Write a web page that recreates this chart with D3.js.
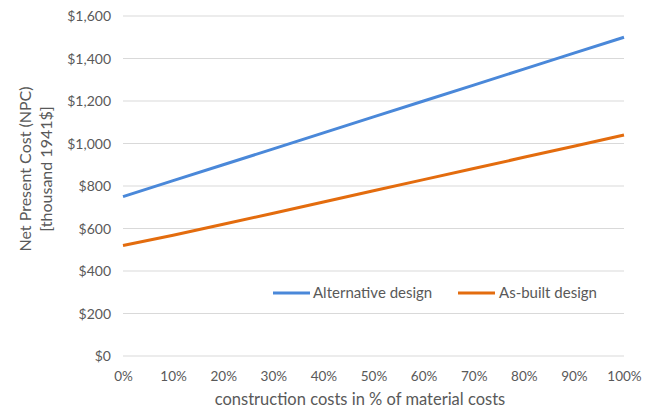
<!DOCTYPE html>
<html>
<head>
<meta charset="utf-8">
<script src="https://cdn.jsdelivr.net/npm/d3@7"></script>
<style>
  body { margin: 0; background: #fff; }
  text { font-family: Lato, "Open Sans", sans-serif; fill: #595959; }
</style>
</head>
<body>
<div id="chart"></div>
<script>
// Data
const xValues = [0, 10, 20, 30, 40, 50, 60, 70, 80, 90, 100];
const alternative = [750, 825, 900, 975, 1050, 1125, 1200, 1275, 1350, 1425, 1500];
const asBuilt = [520, 568, 620, 672, 725, 778, 830, 882, 935, 987, 1040];
const yTicks = [0, 200, 400, 600, 800, 1000, 1200, 1400, 1600];
const seriesNames = ["Alternative design", "As-built design"];
const seriesColors = ["#4a88d9", "#e36c0e"];

const width = 656, height = 419;
const margin = { top: 16, right: 32, bottom: 63, left: 123 };

const svg = d3.select("#chart")
    .append("svg")
    .attr("width", width)
    .attr("height", height);

const x = d3.scaleLinear().domain([0, 100]).range([margin.left, width - margin.right]);
const y = d3.scaleLinear().domain([0, 1600]).range([height - margin.bottom, margin.top]);

// Gridlines
svg.append("g")
    .selectAll("line")
    .data(yTicks)
    .join("line")
    .attr("x1", x(0))
    .attr("x2", x(100))
    .attr("y1", d => y(d))
    .attr("y2", d => y(d))
    .attr("stroke", "#d9d9d9")
    .attr("stroke-width", 1);

// Y axis
const yAxis = svg.append("g")
    .attr("transform", `translate(${x(0) - 9},0)`)
    .call(d3.axisLeft(y).tickValues(yTicks).tickSize(0).tickFormat(d => "$" + d3.format(",")(d)));
yAxis.select(".domain").remove();
yAxis.selectAll("text").style("font-size", "14px").attr("dy", "0.35em");

// X axis
const xAxis = svg.append("g")
    .attr("transform", `translate(0,${y(0) + 12})`)
    .call(d3.axisBottom(x).tickValues(xValues).tickSize(0).tickFormat(d => d + "%"));
xAxis.select(".domain").remove();
xAxis.selectAll("text").style("font-size", "13.5px");

// Lines
const line = d3.line()
    .x((d, i) => x(xValues[i]))
    .y(d => y(d));

[alternative, asBuilt].forEach((s, i) => {
    svg.append("path")
        .datum(s)
        .attr("fill", "none")
        .attr("stroke", seriesColors[i])
        .attr("stroke-width", 3)
        .attr("d", line);
});

// Legend
const legendPos = [[273, 313], [458, 499]];
seriesNames.forEach((name, i) => {
    const g = svg.append("g");
    g.append("line")
        .attr("x1", legendPos[i][0])
        .attr("x2", legendPos[i][0] + 37)
        .attr("y1", 293)
        .attr("y2", 293)
        .attr("stroke", seriesColors[i])
        .attr("stroke-width", 3);
    g.append("text")
        .attr("x", legendPos[i][1])
        .attr("y", 293)
        .attr("dy", "0.35em")
        .style("font-size", "15px")
        .text(name);
});

// Axis titles
svg.append("text")
    .attr("x", 360)
    .attr("y", 405)
    .attr("text-anchor", "middle")
    .style("font-size", "16.5px")
    .text("construction costs in % of material costs");

const yTitle = svg.append("text")
    .attr("transform", `translate(31,169) rotate(-90)`)
    .attr("text-anchor", "middle")
    .style("font-size", "16px");
yTitle.append("tspan").attr("x", 0).attr("dy", "0").text("Net Present Cost (NPC)");
yTitle.append("tspan").attr("x", 0).attr("dy", "1.3em").text("[thousand 1941$]");
</script>
</body>
</html>
